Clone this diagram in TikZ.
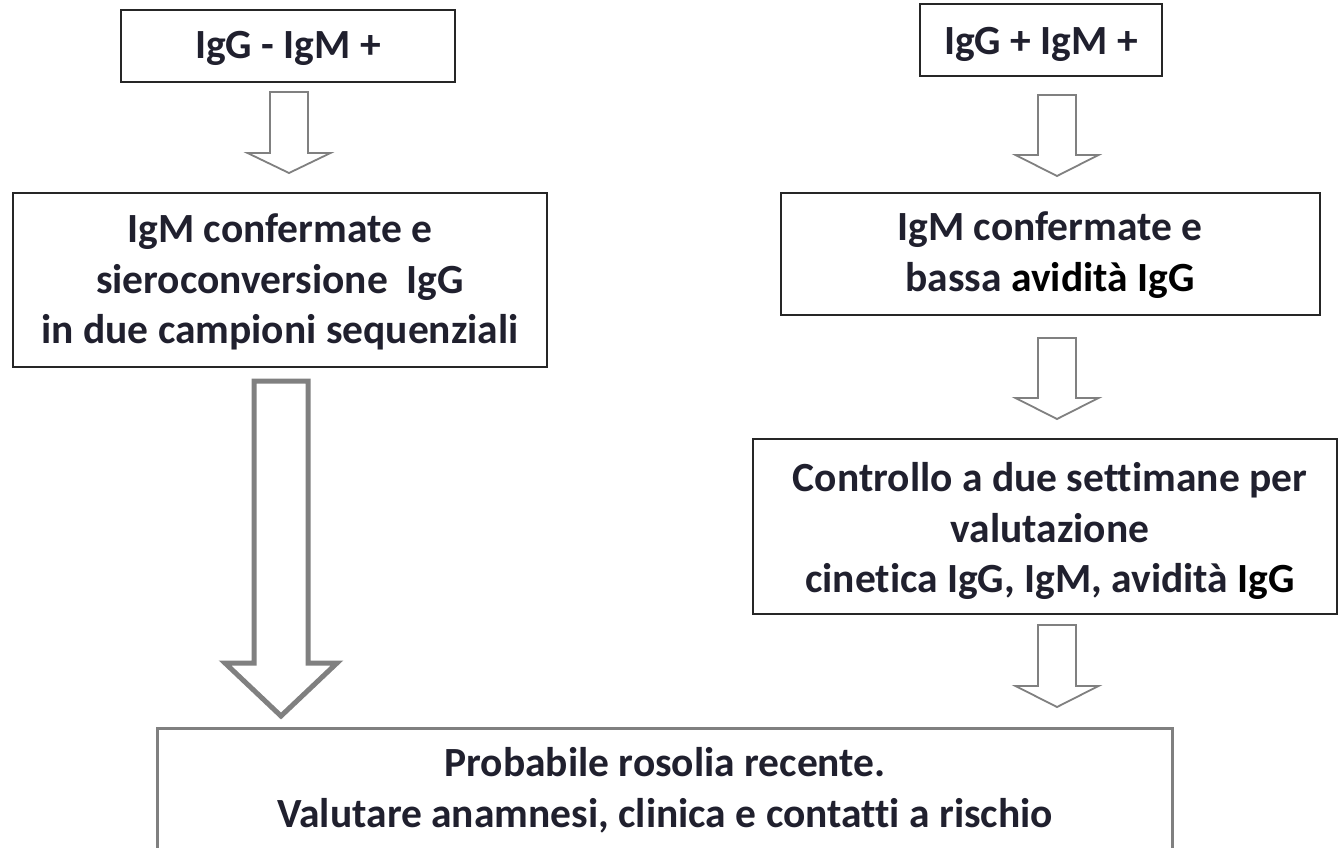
\documentclass[tikz,border=0pt]{standalone}
\usepackage{fontspec}
\setmainfont{Carlito}[Ligatures={NoCommon}]
\definecolor{txtc}{RGB}{32,32,46}
\definecolor{edgec}{RGB}{38,38,38}
\definecolor{arrc}{RGB}{128,128,128}
% #2 x, #3 top, #4 head base, #5 tip, #6 shaft half width, #7 head half width
\newcommand{\blockarr}[7][]{%
  \draw[#1] ({#2-#6},#3) -- ({#2+#6},#3) -- ({#2+#6},#4) -- ({#2+#7},#4)
    -- (#2,#5) -- ({#2-#7},#4) -- ({#2-#6},#4) -- cycle;}
\begin{document}
\begin{tikzpicture}[x=1pt,y=-1pt,
  box/.style={draw=edgec, line width=2pt, fill=white, inner sep=0pt},
  lbl/.style={text=txtc, font=\fontsize{41.5}{50.5}\selectfont\bfseries, align=center, inner sep=0pt},
  thinarr/.style={draw=arrc, line width=1.8pt, fill=white, line join=miter},
  bigarr/.style={draw=arrc, line width=5pt, fill=white, line join=miter},
  endbox/.style={draw=arrc, line width=3pt, fill=white}]
\useasboundingbox (0,0) rectangle (1339,847);
\fill[white] (0,0) rectangle (1339,847);

% left column
\node[box, minimum width=334pt, minimum height=72pt] (b1) at (288,46) {};
\node[lbl] (t1) at (288,48) {IgG - IgM +};
\node[box, minimum width=534pt, minimum height=174pt] (b2) at (280,280) {};
\node[lbl] (t2) at (280,282) {IgM confermate e\\sieroconversione\ \ IgG\\in due campioni sequenziali};

% right column
\node[box, minimum width=242pt, minimum height=72pt] (r1) at (1041,40) {};
\node[lbl] (tr1) at (1041,44) {IgG + IgM +};
\node[box, minimum width=539pt, minimum height=122pt] (r2) at (1050.5,254) {};
\node[lbl] (tr2) at (1050,255) {IgM confermate e\\bassa \textcolor{black}{avidità IgG}};
\node[box, minimum width=584pt, minimum height=175pt] (r3) at (1045,526.5) {};
\node[lbl] (tr3) at (1050,531) {Controllo a due settimane per\\valutazione\\cinetica IgG, IgM, avidità \textcolor{black}{IgG}};

% bottom box (cut by the page edge)
\node[endbox, minimum width=1015pt, minimum height=160pt, inner sep=0pt] (fin) at (664.5,808) {};
\node[lbl] (tfin) at (665,790) {Probabile rosolia recente.\\Valutare anamnesi, clinica e contatti a rischio};

% block arrows
\blockarr[thinarr]{289}{92}{153}{173}{19}{41.5}
\blockarr[bigarr]{281}{381}{663}{716}{27}{56}
\blockarr[thinarr]{1057}{95}{155}{176}{19}{41.5}
\blockarr[thinarr]{1057}{338}{398}{419}{19}{41.5}
\blockarr[thinarr]{1057}{625}{686}{707}{19}{41.5}
\end{tikzpicture}
\end{document}
